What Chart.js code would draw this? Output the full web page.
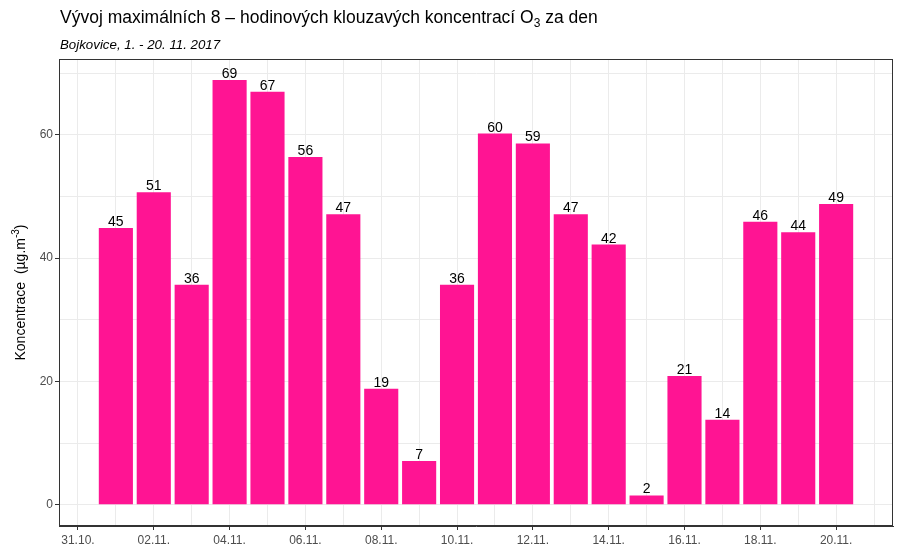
<!DOCTYPE html>
<html>
<head>
<meta charset="utf-8">
<script src="https://cdn.jsdelivr.net/npm/chart.js@4.4.0/dist/chart.umd.min.js"></script>
<style>
  body { margin: 0; background: #fff; }
</style>
</head>
<body>
<canvas id="koncentrace__graf" width="900" height="550"></canvas>
<script>
// dny od 31.10. (1 = 01.11.)
const dny = [1, 2, 3, 4, 5, 6, 7, 8, 9, 10, 11, 12, 13, 14, 15, 16, 17, 18, 19, 20]
const koncentrace = [44.9, 50.7, 35.7, 68.9, 67.0, 56.4, 47.1, 18.8, 7.1, 35.7,
                     60.2, 58.6, 47.1, 42.2, 1.5, 20.9, 13.8, 45.9, 44.2, 48.8]
const xTickDny = [0, 2, 4, 6, 8, 10, 12, 14, 16, 18, 20]
const xTickPopisky = ['31.10.', '02.11.', '04.11.', '06.11.', '08.11.', '10.11.',
                      '12.11.', '14.11.', '16.11.', '18.11.', '20.11.']
const yTicky = [0, 20, 40, 60]

const mrizka = '#EBEBEB'
const tmava = '#333333'
const pismo = '"Liberation Sans", Arial, sans-serif'

// kresli text s dolnim/hornim indexem po kouscich
const kousky = (ctx, casti, x, y) => {
    casti.forEach(c => {
        ctx.font = c.font
        ctx.fillText(c.t, x, y + (c.dy || 0))
        x += ctx.measureText(c.t).width
    })
}
const sirka = (ctx, casti) => casti.reduce((s, c) => { ctx.font = c.font; return s + ctx.measureText(c.t).width }, 0)

const titulky = {
    id: 'titulky',
    afterDraw(chart) {
        const ctx = chart.ctx
        const a = chart.chartArea
        ctx.save()
        ctx.fillStyle = '#000'
        ctx.textAlign = 'left'
        ctx.textBaseline = 'alphabetic'
        kousky(ctx, [
            { t: 'Vývoj maximálních 8 – hodinových klouzavých koncentrací O', font: '17.5px ' + pismo },
            { t: '3', font: '12px ' + pismo, dy: 3.5 },
            { t: ' za den', font: '17.5px ' + pismo }
        ], 60, 23)
        ctx.font = 'italic 13.3px ' + pismo
        ctx.fillText('Bojkovice, 1. - 20. 11. 2017', 60, 49)

        // popisek osy y
        const osa = [
            { t: 'Koncentrace  (µg.m', font: '14px ' + pismo },
            { t: '-3', font: '10px ' + pismo, dy: -6 },
            { t: ')', font: '14px ' + pismo }
        ]
        const w = sirka(ctx, osa)
        ctx.translate(25, (a.top + a.bottom) / 2)
        ctx.rotate(-Math.PI / 2)
        kousky(ctx, osa, -w / 2, 0)
        ctx.setTransform(1, 0, 0, 1, 0, 0)
        ctx.restore()

        // ramecek panelu
        ctx.save()
        ctx.strokeStyle = tmava
        ctx.lineWidth = 1
        ctx.strokeRect(a.left + 0.5, a.top + 0.5, a.right - a.left - 1, a.bottom - a.top - 1)
        ctx.restore()
    }
}

const popiskySloupcu = {
    id: 'popiskySloupcu',
    afterDatasetsDraw(chart) {
        const ctx = chart.ctx
        const meta = chart.getDatasetMeta(0)
        ctx.save()
        ctx.fillStyle = '#000'
        ctx.font = '14px ' + pismo
        ctx.textAlign = 'center'
        ctx.textBaseline = 'alphabetic'
        meta.data.forEach((bar, i) => {
            ctx.fillText(String(Math.round(koncentrace[i])), bar.x, bar.y - 2)
        })
        ctx.restore()
    }
}

const hlavniTick = (seznam) => (c) => (c.tick && seznam.includes(c.tick.value)) ? tmava : 'rgba(0,0,0,0)'

const ctxGraf = document.getElementById('koncentrace__graf').getContext('2d')
const koncentraceChart = new Chart(ctxGraf, {
    type: 'bar',
    data: {
        datasets: [{
            data: dny.map((d, i) => ({ x: d, y: koncentrace[i] })),
            backgroundColor: '#FF1493',
            borderWidth: 0,
            barPercentage: 0.9,
            categoryPercentage: 1.0
        }]
    },
    options: {
        responsive: false,
        animation: false,
        layout: { padding: { top: 59, right: 7, left: 0, bottom: 0 } },
        plugins: {
            legend: { display: false },
            tooltip: { enabled: false }
        },
        scales: {
            x: {
                type: 'linear',
                offset: false,
                min: -0.5,
                max: 21.5,
                afterBuildTicks: (scale) => {
                    const t = []
                    for (let d = 0; d <= 21; d++) t.push({ value: d })
                    scale.ticks = t
                },
                afterFit: (scale) => { scale.height = 24 },
                ticks: {
                    autoSkip: false,
                    maxRotation: 0,
                    padding: 3,
                    color: '#4D4D4D',
                    font: { family: pismo, size: 12 },
                    callback: (v) => {
                        const i = xTickDny.indexOf(v)
                        return i >= 0 ? xTickPopisky[i] : ''
                    }
                },
                grid: {
                    offset: false,
                    color: mrizka,
                    lineWidth: 1,
                    tickLength: 4,
                    tickColor: hlavniTick(xTickDny)
                },
                border: { color: tmava, width: 1 }
            },
            y: {
                min: -3.45,
                max: 72.3,
                afterBuildTicks: (scale) => {
                    const t = []
                    for (let v = 0; v <= 70; v += 10) t.push({ value: v })
                    scale.ticks = t
                },
                afterFit: (scale) => { scale.width = 59 },
                ticks: {
                    autoSkip: false,
                    padding: 2,
                    color: '#4D4D4D',
                    font: { family: pismo, size: 12 },
                    callback: (v) => yTicky.includes(v) ? String(v) : ''
                },
                grid: {
                    color: mrizka,
                    lineWidth: 1,
                    tickLength: 4,
                    tickColor: hlavniTick(yTicky)
                },
                border: { color: tmava, width: 1 }
            }
        }
    },
    plugins: [titulky, popiskySloupcu]
})
</script>
</body>
</html>
